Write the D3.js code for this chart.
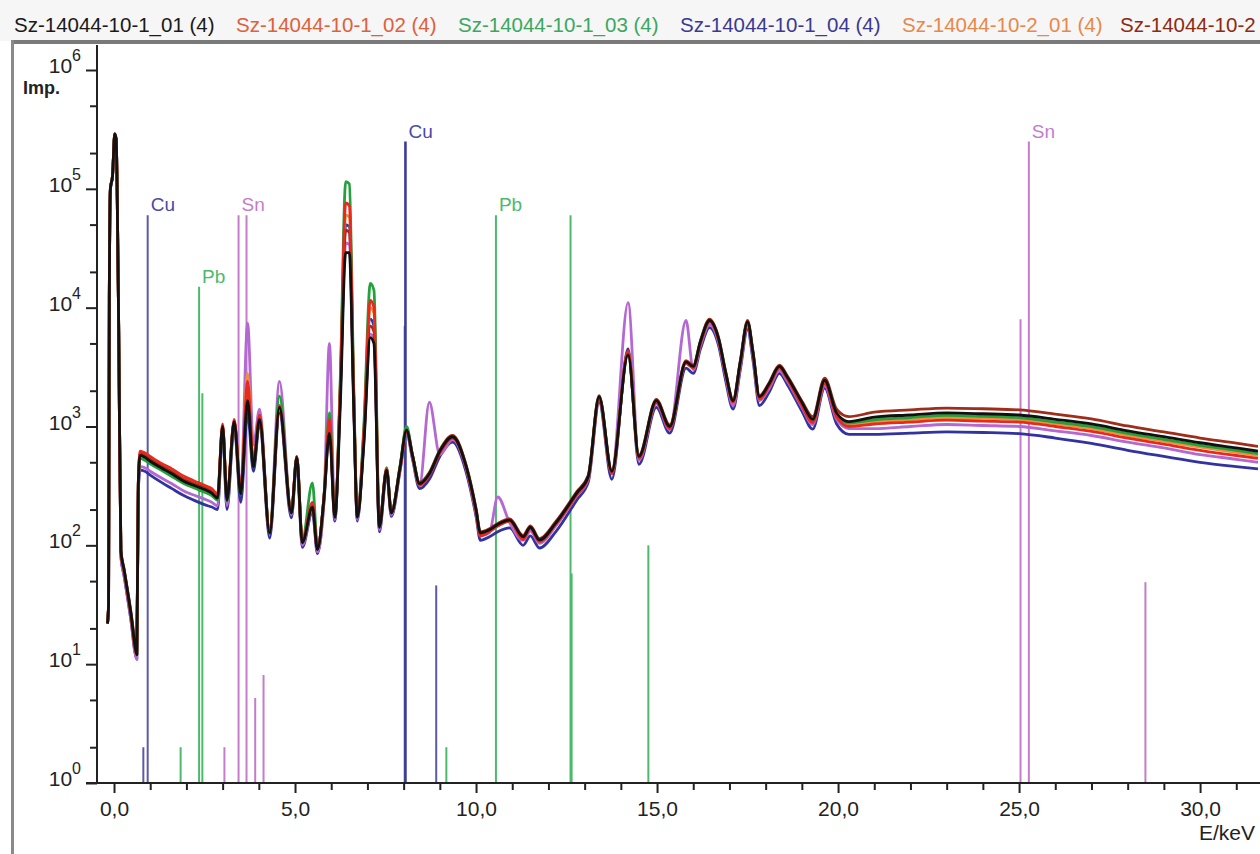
<!DOCTYPE html>
<html>
<head>
<meta charset="utf-8">
<script src="https://cdn.jsdelivr.net/npm/d3@7"></script>
<style>
  html, body { margin: 0; padding: 0; background: #ffffff; }
  svg { display: block; }
  text { font-family: "Liberation Sans", Arial, sans-serif; }
</style>
</head>
<body>
<svg id="chart" width="1260" height="854"></svg>
<script>
// ---------------- DATA ----------------
const energy = [
  -0.18,-0.15,-0.13,-0.10,-0.04,0.02,0.06,0.09,0.13,0.19,
  0.28,0.38,0.48,0.57,0.63,0.67,0.72,0.85,1.0,1.3,
  1.6,1.9,2.2,2.5,2.7,2.86,3.0,3.12,3.32,3.5,
  3.69,3.85,4.02,4.3,4.57,4.9,5.05,5.2,5.48,5.62,
  5.8,5.95,6.1,6.25,6.4,6.5,6.62,6.72,6.9,7.08,
  7.18,7.33,7.53,7.66,7.9,8.08,8.25,8.44,8.71,9.0,
  9.35,9.73,10.0,10.12,10.37,10.6,10.93,11.3,11.5,11.75,
  12.2,12.78,13.1,13.4,13.75,14.2,14.5,14.98,15.35,15.8,
  16.0,16.2,16.45,16.7,16.9,17.1,17.3,17.5,17.65,17.83,
  18.1,18.38,18.6,19.0,19.3,19.63,19.96,20.3,21,22,
  23,24,25,26,27,28,29,30,31,31.6
];

const s_1_01 = [
  22,32,12000,100000,130000,290000,260000,80000,6500,90,
  62,40,25,15,12,320,570,550,510,450,
  400,350,320,295,275,250,1000,240,1100,270,
  1650,460,1150,127,1450,187,550,105,210,92,
  250,880,172,1500,29000,29000,1500,172,700,5600,
  5000,142,430,187,450,930,560,330,400,620,
  820,460,200,127,135,150,163,118,142,111,
  154,275,380,1780,420,4000,560,1650,1000,3500,
  3200,5200,7800,5500,2800,1650,3500,7600,4200,1780,
  2300,3200,2600,1600,1150,2450,1300,1100,1200,1250,
  1300,1280,1250,1150,1050,920,820,730,660,620
];
const s_1_02 = [
  22,32,12000,100000,130000,290000,260000,80000,6500,85,
  60,38,24,14,12,330,620,600,560,490,
  440,385,350,320,300,270,1050,250,1150,290,
  2400,500,1250,130,1500,195,560,108,230,95,
  260,1150,180,2200,76000,72000,2000,180,900,11500,
  10000,150,440,190,440,900,560,320,390,600,
  800,450,190,120,130,145,160,112,138,108,
  150,265,370,1700,400,4300,540,1600,960,3400,
  3100,5000,7600,5300,2700,1600,3400,7400,4100,1700,
  2200,3100,2500,1500,1080,2300,1200,1000,1050,1090,
  1130,1110,1090,1000,910,800,710,630,570,540
];
const s_1_03 = [
  22,32,12000,100000,130000,290000,260000,80000,6500,88,
  60,39,24,14,12,310,540,520,485,430,
  380,335,305,280,262,240,980,235,1080,265,
  2000,470,1200,135,1800,190,560,110,335,100,
  255,1300,178,2500,115000,110000,2300,178,1000,16000,
  14000,150,450,190,460,1000,560,330,400,620,
  810,455,195,125,132,148,160,116,140,110,
  152,270,375,1750,410,4200,550,1620,980,3450,
  3150,5100,7700,5400,2750,1620,3450,7500,4150,1750,
  2250,3150,2550,1560,1120,2400,1270,1070,1140,1190,
  1240,1220,1190,1090,1000,875,780,695,630,590
];
const s_1_04 = [
  22,32,12000,100000,130000,290000,260000,80000,6500,80,
  55,35,22,13,11,280,430,420,390,340,
  300,265,240,220,210,200,900,200,1000,230,
  1300,420,1050,115,1300,170,500,96,190,85,
  230,1000,160,1900,50000,48000,1800,160,800,8000,
  7000,130,400,175,420,880,520,300,360,560,
  740,410,175,110,118,130,140,100,120,95,
  130,240,340,1600,360,4500,480,1450,880,3100,
  2800,4500,6800,4800,2400,1400,3000,6600,3600,1500,
  1950,2800,2250,1350,950,2100,1050,860,860,880,
  900,890,870,800,720,630,560,500,460,440
];
const s_2_01 = [
  22,32,12000,100000,130000,290000,260000,80000,6500,88,
  61,40,25,15,12,320,600,580,535,470,
  420,365,335,310,288,262,1020,245,1120,280,
  2800,480,1200,128,1500,190,550,106,220,94,
  255,1200,175,2100,60000,58000,1900,175,850,10000,
  9000,146,430,188,445,910,555,325,395,610,
  810,455,195,124,133,148,160,115,140,109,
  152,270,375,1760,410,4100,550,1630,985,3450,
  3150,5100,7700,5400,2750,1620,3450,7500,4150,1750,
  2250,3150,2550,1560,1110,2380,1240,1030,1100,1140,
  1190,1170,1140,1050,960,840,750,670,605,570
];
const s_2_02 = [
  22,32,12000,100000,130000,290000,260000,80000,6500,92,
  63,41,26,16,13,330,590,570,530,465,
  415,362,330,305,284,258,1010,248,1110,275,
  2000,470,1160,130,1460,190,555,107,215,94,
  255,1000,175,1900,45000,43000,1800,175,780,7000,
  6300,145,440,190,460,950,570,340,410,635,
  840,470,205,130,138,153,167,121,146,114,
  158,282,390,1820,430,4100,575,1690,1030,3580,
  3280,5300,8000,5600,2870,1690,3580,7800,4300,1820,
  2350,3280,2660,1640,1210,2550,1400,1210,1320,1380,
  1430,1410,1380,1270,1160,1010,900,800,725,680
];
const s_2_03 = [
  22,32,12000,100000,130000,290000,260000,80000,6500,80,
  55,36,22,13,11,280,460,450,420,370,
  330,290,265,245,230,215,950,215,1050,300,
  7400,700,1400,130,2400,180,520,100,200,88,
  240,5000,165,2000,35000,34000,1700,165,750,6000,
  5400,135,420,180,430,880,540,320,1600,580,
  780,440,185,120,128,255,155,110,132,104,
  145,260,360,1700,420,11000,520,1550,940,7800,
  3000,4800,7200,5100,2600,1500,3200,7000,3900,1650,
  2100,2950,2400,1450,1040,2200,1150,960,960,1000,
  1040,1020,1000,920,840,740,660,580,530,500
];

// legend as visible in the reference header (last entry is cut by the window edge)
const legendNames = [
  "Sz-14044-10-1_01 (4)", "Sz-14044-10-1_02 (4)", "Sz-14044-10-1_03 (4)",
  "Sz-14044-10-1_04 (4)", "Sz-14044-10-2_01 (4)", "Sz-14044-10-2"
];

// element marker lines (keV, line height in Imp.)
const cuLineE = [0.81, 0.93, 8.03, 8.05, 8.90];
const cuLineH = [2, 60000, 7000, 250000, 46];
const pbLineE = [1.84, 2.35, 2.44, 9.18, 10.55, 12.61, 12.64, 14.76];
const pbLineH = [2, 15000, 1900, 2, 60000, 60000, 58, 100];
const snLineE = [3.05, 3.44, 3.66, 3.90, 4.13, 25.04, 25.27, 28.49];
const snLineH = [2, 60000, 60000, 5.2, 8.1, 8000, 250000, 49];

const markerLabelText = ["Cu", "Pb", "Sn", "Cu", "Pb", "Sn"];
const markerLabelE    = [0.93, 2.35, 3.44, 8.05, 10.55, 25.27];
const markerLabelH    = [60000, 15000, 60000, 250000, 60000, 250000];

const xMajorTicks = [0, 5, 10, 15, 20, 25, 30];
const xMinorTicks = [1,2,3,4,6,7,8,9,11,12,13,14,16,17,18,19,21,22,23,24,26,27,28,29,31];
const yDecades = [0, 1, 2, 3, 4, 5, 6];

// ---------------- DRAW ----------------
const svg = d3.select("#chart");
const W = 1260, H = 854;

const x = d3.scaleLinear().domain([-0.47, 31.6]).range([97, 1258]);
const y = d3.scaleLog().domain([1, 1e6]).range([783, 70]);

// header
svg.append("rect").attr("x", 0).attr("y", 0).attr("width", W).attr("height", 41).attr("fill", "#f6f6f6");
svg.append("rect").attr("x", 11).attr("y", 40).attr("width", W - 11).attr("height", 4).attr("fill", "#7a7a7a");
svg.append("rect").attr("x", 11).attr("y", 40).attr("width", 3).attr("height", H - 40).attr("fill", "#8a8a8a");

const legendColors = ["#1a1a1a", "#e0603c", "#3aa860", "#3a3a92", "#e8884a", "#8e2a12"];
svg.append("g").selectAll("text").data(legendNames).join("text")
  .attr("x", (d, i) => 14 + i * 222 - (i === 5 ? 4 : 0))
  .attr("y", 32)
  .attr("font-size", 20.5)
  .attr("fill", (d, i) => legendColors[i])
  .text(d => d);

// clip
svg.append("defs").append("clipPath").attr("id", "plotclip")
  .append("rect").attr("x", 98).attr("y", 45).attr("width", 1160).attr("height", 738);

const plot = svg.append("g").attr("clip-path", "url(#plotclip)");

// element marker lines
function markers(es, hs, color, widthFn) {
  plot.append("g").selectAll("line").data(es).join("line")
    .attr("x1", d => x(d)).attr("x2", d => x(d))
    .attr("y1", y(1)).attr("y2", (d, i) => y(hs[i]))
    .attr("stroke", (d, i) => typeof color === "function" ? color(hs[i]) : color)
    .attr("stroke-width", (d, i) => widthFn(hs[i]));
}
markers(cuLineE, cuLineH, h => h > 100000 ? "#3c3c96" : "#5a5aaa", h => h > 100000 ? 2.6 : 2);
markers(pbLineE, pbLineH, "#4cba6c", () => 2);
markers(snLineE, snLineH, "#c47ccb", () => 2);

// spectra
const series = [
  { v: s_1_04, c: "#3232a0" },
  { v: s_2_03, c: "#b468d2" },
  { v: s_2_01, c: "#f0903c" },
  { v: s_2_02, c: "#a02c1a" },
  { v: s_1_03, c: "#24a03c" },
  { v: s_1_02, c: "#e82a1e" },
  { v: s_1_01, c: "#111111" }
];
const line = d3.line()
  .x(d => x(d[0]))
  .y(d => y(d[1]))
  .curve(d3.curveMonotoneX);
series.forEach(s => {
  plot.append("path")
    .datum(energy.map((e, i) => [e, s.v[i]]))
    .attr("d", line)
    .attr("fill", "none")
    .attr("stroke", s.c)
    .attr("stroke-width", 2.8)
    .attr("stroke-linejoin", "round");
});

// marker labels
const labelColor = { Cu: "#4a4aa6", Pb: "#4cba6c", Sn: "#c47ccb" };
svg.append("g").selectAll("text").data(markerLabelText).join("text")
  .attr("x", (d, i) => x(markerLabelE[i]) + 3)
  .attr("y", (d, i) => y(markerLabelH[i]) - 4)
  .attr("font-size", 19)
  .attr("fill", d => labelColor[d])
  .text(d => d);

// axes
const axisColor = "#222";
const gxMinor = svg.append("g").attr("transform", "translate(0,783)")
  .call(d3.axisBottom(x).tickValues(xMinorTicks).tickSize(7).tickFormat(""));
const gxMajor = svg.append("g").attr("transform", "translate(0,783)")
  .call(d3.axisBottom(x).tickValues(xMajorTicks).tickSize(10).tickPadding(8)
    .tickFormat(d => d.toFixed(1).replace(".", ",")));
[gxMinor, gxMajor].forEach(g => {
  g.select(".domain").remove();
  g.selectAll(".tick line").attr("stroke", axisColor).attr("stroke-width", 2);
});
gxMajor.selectAll(".tick text").attr("font-size", 21).attr("fill", "#222")
  .attr("font-family", "Liberation Sans, Arial, sans-serif");

const yMinorVals = [];
yDecades.slice(0, -1).forEach(p => { yMinorVals.push(2 * Math.pow(10, p)); yMinorVals.push(5 * Math.pow(10, p)); });
const gyMinor = svg.append("g").attr("transform", "translate(97,0)")
  .call(d3.axisLeft(y).tickValues(yMinorVals).tickSize(7).tickFormat(""));
const gyMajor = svg.append("g").attr("transform", "translate(97,0)")
  .call(d3.axisLeft(y).tickValues(yDecades.map(p => Math.pow(10, p))).tickSize(11).tickFormat(""));
[gyMinor, gyMajor].forEach(g => {
  g.select(".domain").remove();
  g.selectAll(".tick line").attr("stroke", axisColor).attr("stroke-width", 2);
});

const yl = svg.append("g");
yDecades.forEach(p => {
  const t = yl.append("text")
    .attr("x", 81).attr("y", y(Math.pow(10, p)) + 3)
    .attr("text-anchor", "end").attr("fill", "#222").attr("font-size", 21);
  t.append("tspan").text("10");
  t.append("tspan").attr("dy", -12).attr("font-size", 16).text(String(p));
});

svg.append("line").attr("x1", 97).attr("x2", 97).attr("y1", 45).attr("y2", 784)
  .attr("stroke", axisColor).attr("stroke-width", 2);
svg.append("line").attr("x1", 86).attr("x2", W).attr("y1", 783).attr("y2", 783)
  .attr("stroke", axisColor).attr("stroke-width", 2);

svg.append("text").attr("x", 23).attr("y", 94).attr("font-size", 18).attr("font-weight", "bold")
  .attr("fill", "#222").text("Imp.");
svg.append("text").attr("x", 1255).attr("y", 840).attr("text-anchor", "end").attr("font-size", 21)
  .attr("fill", "#222").text("E/keV");
</script>
</body>
</html>
